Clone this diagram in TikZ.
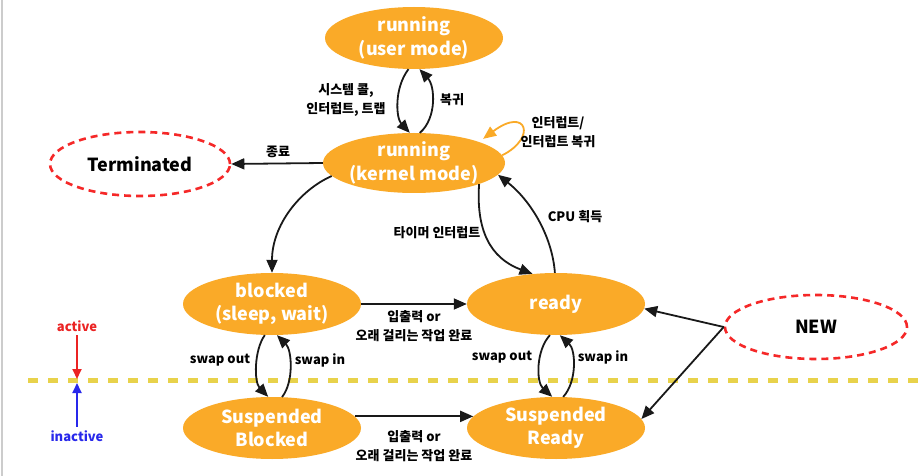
\documentclass[tikz,border=0pt]{standalone}
\usepackage{fontspec}
\setmainfont{Noto Sans CJK KR}
\usetikzlibrary{shapes.geometric,arrows.meta}
\definecolor{stateorange}{RGB}{250,170,40}
\definecolor{termred}{RGB}{245,40,40}
\definecolor{lineyellow}{RGB}{232,210,75}
\definecolor{actred}{RGB}{235,35,35}
\definecolor{inactblue}{RGB}{40,40,235}
\tikzset{
  statebox/.style={ellipse, fill=stateorange, text=white, inner sep=0pt,
    minimum width=178pt, minimum height=62pt, align=center,
    font=\fontsize{18}{23.5}\selectfont\bfseries},
  termbox/.style={ellipse, draw=termred, line width=2.6pt, dash pattern=on 7pt off 5pt,
    inner sep=0pt, minimum width=180pt, minimum height=64pt,
    font=\fontsize{18}{22}\selectfont\bfseries},
  conn/.style={draw=black!90, line width=1.8pt, -{Triangle[length=13pt,width=11pt]}},
  lbl/.style={align=center, inner sep=0pt, font=\fontsize{13}{18.5}\selectfont\bfseries},
  marker/.style={line width=1.8pt, -{Triangle[length=10pt,width=9pt]}}
}
\begin{document}
\begin{tikzpicture}[x=1pt,y=-1pt]
\useasboundingbox[fill=white] (0,0) rectangle (919,476);
\draw[black!20, line width=1.2pt] (2,0) -- (2,476);

% states
\node[statebox] (user) at (414,38) {running\\(user mode)};
\node[statebox, minimum height=60pt] (kern) at (414,163) {running\\(kernel mode)};
\node[statebox] (blk) at (272,304) {blocked\\(sleep, wait)};
\node[statebox] (rdy) at (556,304) {ready};
\node[statebox] (sblk) at (272,428) {Suspended\\Blocked};
\node[statebox] (srdy) at (556,428) {Suspended\\Ready};
\node[termbox] (term) at (140,164) {Terminated};
\node[termbox, minimum width=182pt] (new) at (816,327) {NEW};

% active / inactive divider
\coordinate (lineL) at (28,380);
\coordinate (lineR) at (919,380);
\draw[lineyellow, line width=5pt, dash pattern=on 10pt off 10pt] (lineL) -- (lineR);
\node[text=actred, font=\fontsize{13}{15}\selectfont\bfseries] (act) at (77,326) {active};
\node[text=inactblue, font=\fontsize{13}{15}\selectfont\bfseries] (inact) at (77,436) {inactive};
\coordinate (actEnd) at (77,379);
\coordinate (inactEnd) at (77,383);
\draw[marker, actred] (act.south) -- (actEnd);
\draw[marker, inactblue] (inact.north) -- (inactEnd);

% connectors
\draw[conn] (user.260) .. controls (394,88) and (396,118) .. (kern.98);
\draw[conn] (kern.79) .. controls (437,118) and (435,86) .. (user.280);
\draw[draw=stateorange, line width=1.8pt, -{Triangle[length=13pt,width=11pt]}, shorten >=5pt]
  (kern.5) .. controls (537,138) and (527,106) .. (kern.18);
\draw[conn] (kern.180) -- (term.0);
\draw[conn] (kern.189) .. controls (300,190) and (272,225) .. (blk.90);
\draw[conn] (kern.342) .. controls (476,230) and (490,258) .. (rdy.128);
\draw[conn] (rdy.92) .. controls (552,235) and (530,200) .. (kern.352);
\draw[conn] (blk.0) -- (rdy.180);
\draw[conn] (sblk.8) -- (srdy.172);
\draw[conn] (blk.257) .. controls (254,350) and (254,382) .. (sblk.97);
\draw[conn] (sblk.72) .. controls (294,382) and (292,350) .. (blk.279);
\draw[conn] (rdy.259) .. controls (536,350) and (536,382) .. (srdy.97);
\draw[conn] (srdy.77) .. controls (577,382) and (576,350) .. (rdy.277);
\draw[conn] (new.180) -- (rdy.-3);
\draw[conn] (new.180) -- (srdy.6);

% labels
\node[lbl] (l1) at (346,100) {시스템 콜,\\인터럽트, 트랩};
\node[lbl] (l2) at (452,100) {복귀};
\node[lbl] (l3) at (558,132) {인터럽트/\\인터럽트 복귀};
\node[lbl] (l4) at (278,152) {종료};
\node[lbl] (l5) at (437,233) {타이머 인터럽트};
\node[lbl] (l6) at (575,217) {CPU 획득};
\node[lbl] (l7) at (414,326) {입출력 or\\오래 걸리는 작업 완료};
\node[lbl] (l8) at (414,446) {입출력 or\\오래 걸리는 작업 완료};
\node[lbl] (l9) at (220,360) {swap out};
\node[lbl] (l10) at (320,360) {swap in};
\node[lbl] (l11) at (502,357) {swap out};
\node[lbl] (l12) at (603,357) {swap in};
\end{tikzpicture}
\end{document}
